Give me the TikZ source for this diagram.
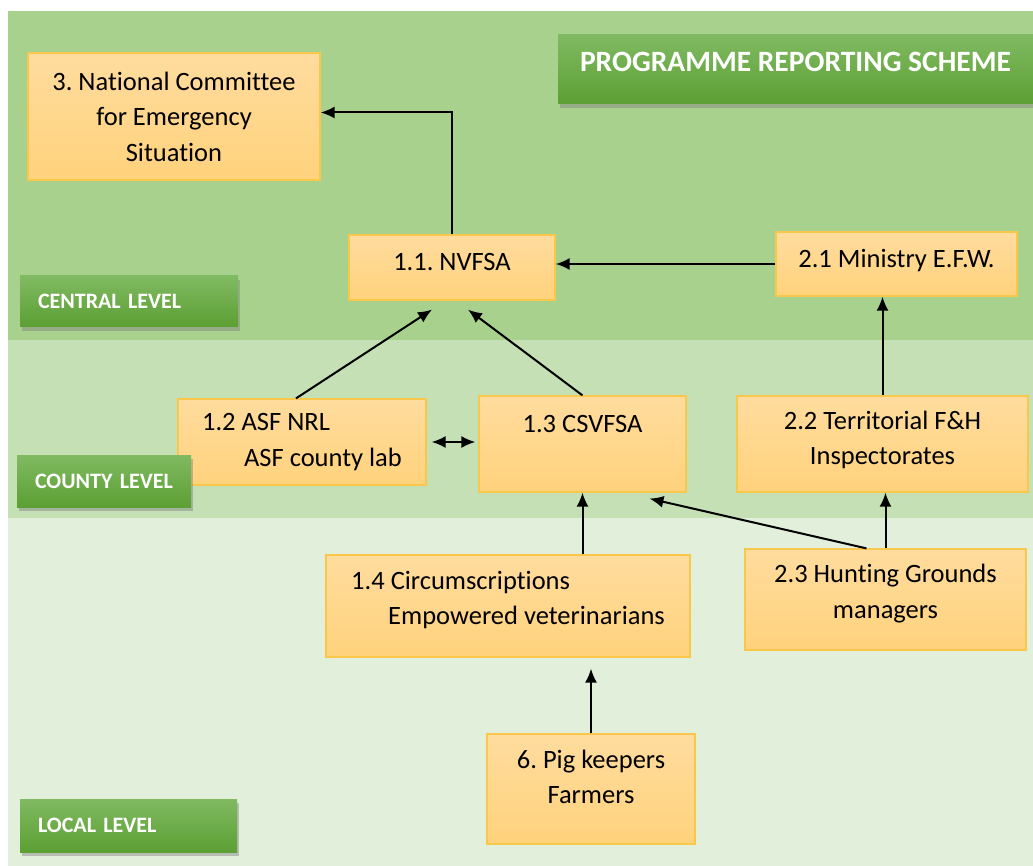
\documentclass[tikz,border=0pt]{standalone}
\usepackage{fontspec}
\setmainfont{Carlito}[Ligatures=NoCommon]
\usepackage{tikz}
\usetikzlibrary{arrows.meta, shadows}
\definecolor{centralgreen}{HTML}{A9D18E}
\definecolor{countygreen}{HTML}{C5E0B4}
\definecolor{localgreen}{HTML}{E2EFDA}
\definecolor{boxtop}{HTML}{FFDC9E}
\definecolor{boxbottom}{HTML}{FFD27C}
\definecolor{boxline}{HTML}{F9C74A}
\definecolor{labeltop}{HTML}{80BA62}
\definecolor{labelbottom}{HTML}{5C9F33}
\frenchspacing

\begin{document}
\begin{tikzpicture}[x=1pt, y=-1pt, >={Latex[length=14pt,width=12pt]},
                    every path/.style={line width=2pt}]
                    \tikzstyle{box}=[draw=boxline, line width=1.2pt, top color=boxtop, bottom color=boxbottom,
                        inner sep=0pt, align=center, font=\fontsize{26.5}{35.5}\selectfont]
                    \tikzstyle{levelbox}=[top color=labeltop, bottom color=labelbottom, text=white,
                        drop shadow={shadow xshift=2pt, shadow yshift=-4pt, opacity=0.45},
                        inner xsep=18pt, inner ysep=0pt, align=left, font=\fontsize{22}{24}\bfseries]
                    \useasboundingbox (0,0) rectangle (1033,866);
                    \fill[centralgreen] (8,11) rectangle (1033,340);
                    \fill[countygreen] (8,340) rectangle (1033,518);
                    \fill[localgreen] (8,518) rectangle (1033,866);

                    \node (Title) [levelbox, minimum width=475, minimum height=69, text depth=15pt,
                        align=center, font=\fontsize{29.5}{32}\bfseries] at (795.5,69.5) {PROGRAMME REPORTING SCHEME};
                    \node (Central) [levelbox, text width=182, minimum height=51] at (129,301.5) {CENTRAL LEVEL};
                    \node (Local) [levelbox, text width=181, minimum height=53] at (128.5,825.5) {LOCAL LEVEL};

                    \node (ncse) [box, minimum width=292, minimum height=127] at (174,116.5)
                        {3. National Committee\\for Emergency\\Situation};
                    \node (nvfsa) [box, minimum width=206, minimum height=65, text depth=11pt] at (452,267.5) {1.1. NVFSA};
                    \node (efw) [box, minimum width=241, minimum height=64, text depth=11pt] at (896.5,264) {2.1 Ministry E.F.W.};
                    \node (asf) [box, minimum width=248, minimum height=86, align=left] at (302,442)
                        {1.2 ASF NRL\\\hspace{42pt}ASF county lab};
                    \node (csv) [box, minimum width=207, minimum height=96, text depth=40pt] at (582.5,444) {1.3 CSVFSA};
                    \node (inspect) [box, minimum width=291, minimum height=96, text depth=12pt] at (882.5,444)
                        {2.2 Territorial F\&H\\Inspectorates};
                    \node (circ) [box, minimum width=364, minimum height=102, align=left, text depth=16pt] at (508,606)
                        {1.4 Circumscriptions\\\hspace{37pt}Empowered veterinarians};
                    \node (hunt) [box, minimum width=281, minimum height=101, text depth=16pt] at (885.5,599.5)
                        {2.3 Hunting Grounds\\managers};
                    \node (pig) [box, minimum width=208, minimum height=110, text depth=24pt] at (591,789)
                        {6. Pig keepers\\Farmers};
                    \node (County) [levelbox, text width=138, minimum height=52] at (104,481) {COUNTY LEVEL};

                    \draw[->] (nvfsa.north) |- ([yshift=4pt]ncse.east);
                    \draw[->] (efw.west) -- (efw.west -| nvfsa.east);
                    \draw[->] ([xshift=-6pt]asf.north) -- ([xshift=-20pt,yshift=-9pt]nvfsa.south);
                    \draw[->] (csv.north) -- ([xshift=16pt,yshift=-9pt]nvfsa.south);
                    \draw[->] (inspect.north) -- (inspect.north |- efw.south);
                    \draw[<->, shorten <=5pt, shorten >=3pt] (asf.east) -- (asf.east -| csv.west);
                    \draw[->] (circ.north -| csv.south) -- (csv.south);
                    \draw[->] ([xshift=-19pt]hunt.north) -- ([xshift=67pt,yshift=-6pt]csv.south);
                    \draw[->] (hunt.north) -- (hunt.north |- inspect.south);
                    \draw[->] (pig.north) -- ([yshift=-11pt]pig.north |- circ.south);
                \end{tikzpicture}
\end{document}
